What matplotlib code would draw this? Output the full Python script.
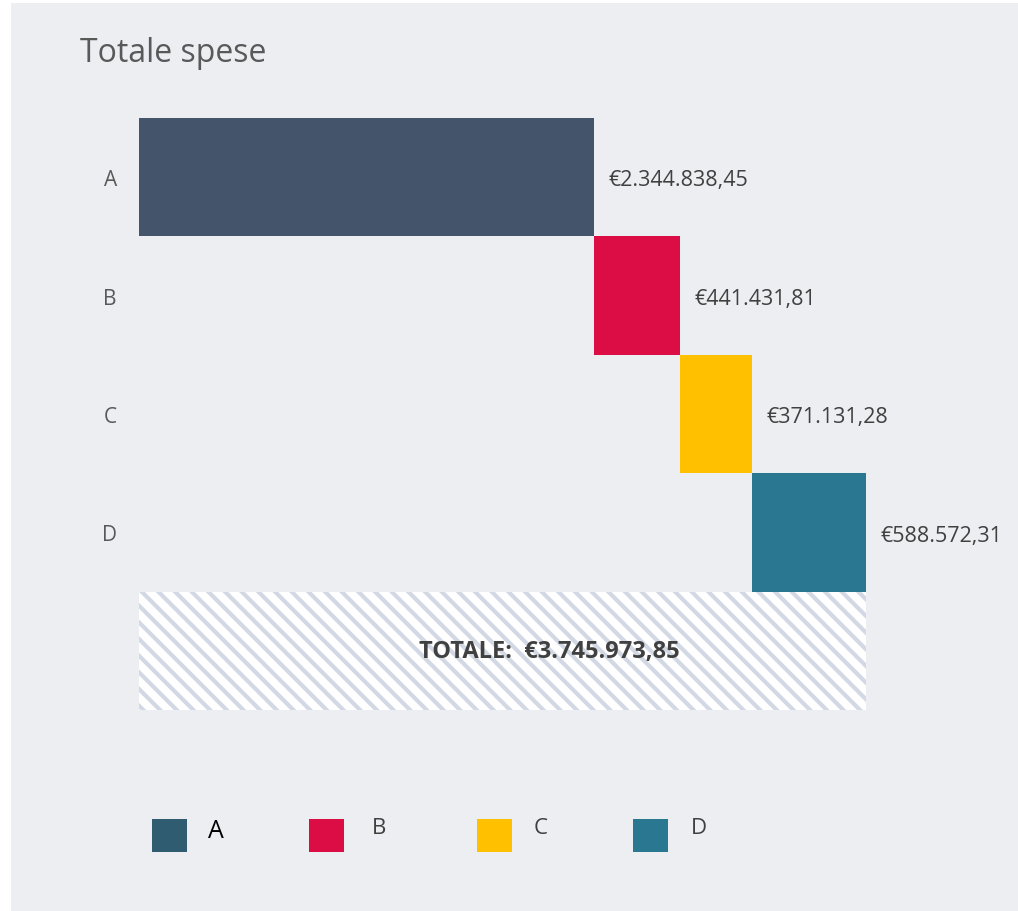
import matplotlib
matplotlib.use("Agg")
import matplotlib.pyplot as plt
from matplotlib.patches import Rectangle

# data
categories = ["A", "B", "C", "D"]
values = [2344838.45, 441431.81, 371131.28, 588572.31]
colors = ["#44546A", "#DC0D45", "#FFC000", "#2A7791"]
legend_colors = ["#305C72", "#DC0D45", "#FFC000", "#2A7791"]
title = "Totale spese"
total_label = "TOTALE:"


def euro(v):
    s = f"{v:,.2f}"
    s = s.replace(",", "X").replace(".", ",").replace("X", ".")
    return "€" + s


plt.rcParams["font.family"] = ["Open Sans", "DejaVu Sans"]
plt.rcParams["hatch.linewidth"] = 3.0

W, H = 1018, 912
fig = plt.figure(figsize=(W / 100, H / 100), dpi=100, facecolor="white")
# grey panel
fig.add_artist(Rectangle((11 / W, 0), 1 - 11 / W, (H - 4) / H,
                         transform=fig.transFigure, facecolor="#EDEEF2",
                         edgecolor="none", zorder=-10))

fig.text(80 / W, 1 - 62 / H, title, fontsize=23, color="#595959",
         ha="left", va="baseline")

ax = fig.add_axes([139 / W, (H - 711) / H, 727 / W, 592 / H])
ax.patch.set_alpha(0)

total = sum(values)
lefts = []
run = 0
for v in values:
    lefts.append(run)
    run += v

ys = list(range(len(values)))
ax.barh(ys, values, left=lefts, height=1.0, color=colors, linewidth=0)
ax.barh(len(values), total, left=0, height=1.0, color="white",
        edgecolor="#D3D9E4", hatch="\\\\", linewidth=0)

for y, l, v in zip(ys, lefts, values):
    ax.annotate(euro(v), (l + v, y), xytext=(10.5, -2), textcoords="offset points",
                ha="left", va="center", fontsize=15.5, color="#404040")

ax.annotate(f"{total_label}  {euro(total)}", (total / 2, len(values)),
            xytext=(34, 0), textcoords="offset points", ha="center",
            va="center", fontsize=17, fontweight="bold", color="#404040")

ax.set_xlim(0, total)
ax.set_ylim(len(values) + 0.5, -0.5)
ax.set_yticks(ys, categories)
ax.set_xticks([])
ax.tick_params(axis="y", length=0, pad=16, labelsize=15, labelcolor="#595959")
for s in ax.spines.values():
    s.set_visible(False)

# legend
sq_x = [152, 309, 477, 633]
lab_x = [208, 372, 534, 691]
lab_base = [838, 834, 834, 834]
for i, c in enumerate(categories):
    fig.add_artist(Rectangle((sq_x[i] / W, 1 - 853 / H), 35 / W, 33 / H,
                             transform=fig.transFigure,
                             facecolor=legend_colors[i], edgecolor="none"))
    if i == 0:
        fig.text(lab_x[i] / W, 1 - lab_base[i] / H, c, fontsize=18,
                 color="black", ha="left", va="baseline")
    else:
        fig.text(lab_x[i] / W, 1 - lab_base[i] / H, c, fontsize=16,
                 color="#404040", ha="left", va="baseline")

fig.savefig("out.png", dpi=100, facecolor="white")
